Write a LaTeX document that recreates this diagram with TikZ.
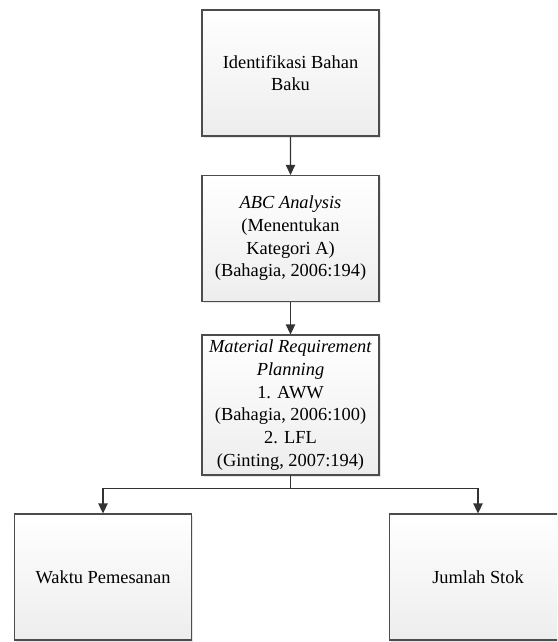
\documentclass[tikz,border=0pt]{standalone}
\usepackage{fontspec}
\setmainfont{Liberation Serif}
\usetikzlibrary{arrows.meta,shadows}

\begin{document}
\begin{tikzpicture}[x=0.75pt,y=-0.75pt]
\path[use as bounding box,clip] (0,0) rectangle (557,642);
\tikzstyle{every node}=[draw=black!70,line width=0.8pt,top color=white,bottom color=black!7,drop shadow={shadow xshift=1.4pt,shadow yshift=-1.4pt,fill=black!20,opacity=0.5},minimum width=132.75pt,minimum height=94.5pt,inner sep=1pt,align=center,font=\fontsize{13.8}{17}\selectfont];
\tikzstyle{edge from parent}=[draw=black!80,line width=0.9pt,-{Triangle[length=7.5pt,width=7pt]}];
\node at (290.5,73) {Identifikasi Bahan\\Baku}[level distance=124.1pt]
child {
	node {\textit{ABC Analysis}\\(Menentukan\\Kategori A)\\(Bahagia, 2006:194)}[level distance=124.9pt]
	child {
		node [minimum height=105pt] {\textit{Material Requirement}\\\textit{Planning}\\1. AWW\\(Bahagia, 2006:100)\\2. LFL\\(Ginting, 2007:194)}[level distance=129pt,sibling distance=281.25pt,edge from parent path={(\tikzparentnode.south) -- ++(0,13) -| (\tikzchildnode.north)}]
		child {
			node {Waktu Pemesanan}
		}
		child {
			node {Jumlah Stok}
		}
	}
};
\end{tikzpicture}
\end{document}
